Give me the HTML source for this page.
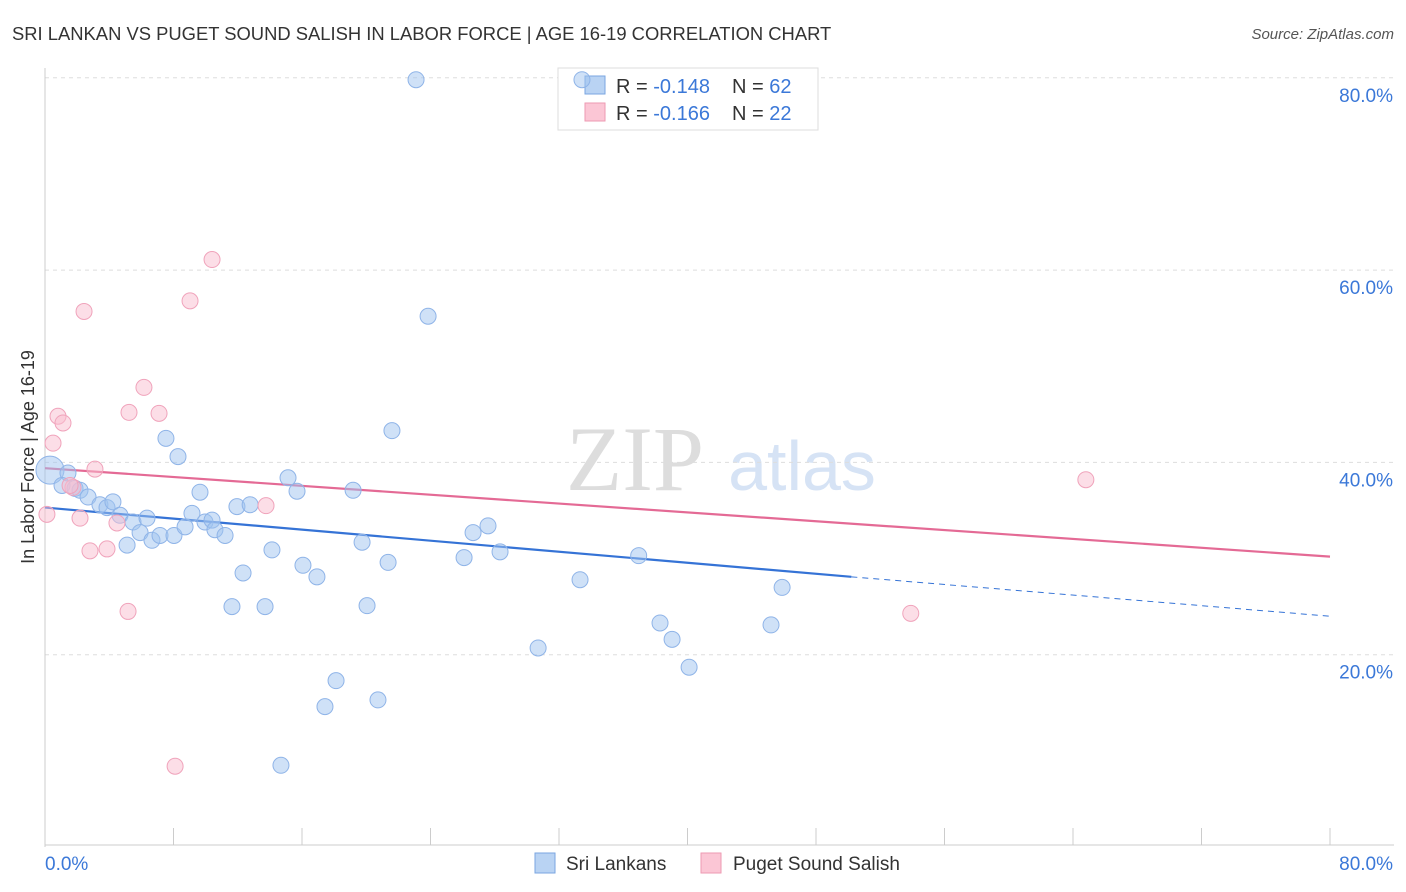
<!DOCTYPE html>
<html><head><meta charset="utf-8"><style>
body{margin:0;background:#fff;font-family:"Liberation Sans",sans-serif;}
svg{display:block}
</style></head><body>
<svg id="chart" width="1406" height="892">
<text x="12" y="40" font-size="18.4" fill="#333">SRI LANKAN VS PUGET SOUND SALISH IN LABOR FORCE | AGE 16-19 CORRELATION CHART</text>
<text x="1394" y="39" font-size="15" fill="#555" text-anchor="end" font-style="italic">Source: ZipAtlas.com</text>
<g><text x="635" y="490" font-size="92" fill="#ddd" font-family="Liberation Serif" text-anchor="middle">ZIP</text><text x="802" y="490" font-size="70" fill="#d6e3f5" text-anchor="middle">atlas</text></g>
<g id="grid"></g><g id="axes"></g>
<g>
<rect x="558" y="68" width="260" height="62" fill="#fff" stroke="#ddd"/>
<rect x="585" y="76" width="20" height="18" fill="#b9d3f3" stroke="#7aa6e0"/>
<rect x="585" y="103" width="20" height="18" fill="#fbc6d5" stroke="#ee9ab2"/>
<text x="616" y="93" font-size="20" fill="#333">R = <tspan fill="#3b78d8">-0.148</tspan></text>
<text x="732" y="93" font-size="20" fill="#333">N = <tspan fill="#3b78d8">62</tspan></text>
<text x="616" y="120" font-size="20" fill="#333">R = <tspan fill="#3b78d8">-0.166</tspan></text>
<text x="732" y="120" font-size="20" fill="#333">N = <tspan fill="#3b78d8">22</tspan></text>
</g>
<g id="trend"></g><g id="dots"></g>
<text transform="translate(34,457) rotate(-90)" font-size="18" fill="#333" text-anchor="middle">In Labor Force | Age 16-19</text>
<g>
<rect x="535" y="853" width="20" height="20" fill="#b9d3f3" stroke="#7aa6e0"/>
<text x="566" y="870" font-size="19" fill="#333">Sri Lankans</text>
<rect x="701" y="853" width="20" height="20" fill="#fbc6d5" stroke="#ee9ab2"/>
<text x="733" y="870" font-size="19" fill="#333">Puget Sound Salish</text>
</g>
</svg>
<script>
const yTicks=[20,40,60,80];
const yTickLabels=["20.0%","40.0%","60.0%","80.0%"];
const blueX=[0.31,1.43,1.06,1.87,2.18,2.68,3.42,3.86,4.23,4.67,5.11,5.48,5.92,6.35,6.66,7.16,7.53,8.03,8.28,8.72,9.15,9.65,9.96,10.4,10.58,11.21,11.64,11.95,12.33,12.77,13.7,14.13,15.13,15.69,16.06,16.93,17.43,18.12,19.18,19.74,20.05,20.73,21.36,21.6,23.1,23.85,26.09,26.65,27.58,28.33,30.7,33.31,33.43,36.96,38.29,39.04,40.1,45.2,45.89,14.69];
const blueY=[39.2,38.9,37.6,37.3,37.1,36.4,35.6,35.3,35.9,34.5,31.4,33.8,32.7,34.2,31.9,32.4,42.5,32.4,40.6,33.3,34.7,36.9,33.8,34.0,33.0,32.4,25.0,35.4,28.5,35.6,25.0,30.9,38.4,37.0,29.3,28.1,14.6,17.3,37.1,31.7,25.1,15.3,29.6,43.3,79.8,55.2,30.1,32.7,33.4,30.7,20.7,27.8,79.8,30.3,23.3,21.6,18.7,23.1,27.0,8.5];
const pinkX=[0.12,0.5,0.81,1.12,1.74,2.18,2.8,3.11,3.86,4.48,5.17,5.23,6.16,7.1,8.1,9.03,10.4,13.76,2.43,64.8,53.9,1.56];
const pinkY=[34.6,42.0,44.8,44.1,37.4,34.2,30.8,39.3,31.0,33.7,24.5,45.2,47.8,45.1,8.4,56.8,61.1,35.5,55.7,38.2,24.3,37.6];
const blueTrend=[35.3,28.1,24.0]; const blueTrendX=[0,50.2,80];
const pinkTrend=[39.4,30.2]; const pinkTrendX=[0,80];
const X=v=>45+v/80*1285, Y=v=>847-v*9.615;
const NS="http://www.w3.org/2000/svg";
function mk(p,t,a){const e=document.createElementNS(NS,t);for(const k in a)e.setAttribute(k,a[k]);document.getElementById(p).appendChild(e);return e;}
yTicks.forEach((t,i)=>{
 const l=mk('grid','line',{x1:45,x2:1394,y1:Y(t),y2:Y(t),stroke:'#ddd','stroke-dasharray':'4,4'});
 
 
 const tx=mk('grid','text',{x:1393,y:Y(t)+24,'font-size':19,fill:'#3b78d8','text-anchor':'end'});tx.textContent=yTickLabels[i];
 
 
});
mk('axes','line',{x1:45,x2:45,y1:68,y2:847,stroke:'#ccc'});
mk('axes','line',{x1:45,x2:1394,y1:845,y2:845,stroke:'#ccc'});
for(let i=0;i<=10;i++){mk('axes','line',{x1:X(i*8),x2:X(i*8),y1:828,y2:845,stroke:'#ccc'});}
let a=mk('axes','text',{x:45,y:870,'font-size':19,fill:'#3b78d8'});a.textContent='0.0%';


a=mk('axes','text',{x:1393,y:870,'font-size':19,fill:'#3b78d8','text-anchor':'end'});a.textContent='80.0%';


let t=mk('trend','line',{x1:X(blueTrendX[0]),y1:Y(blueTrend[0]),x2:X(blueTrendX[1]),y2:Y(blueTrend[1]),stroke:'#3573d6','stroke-width':2.2});


t=mk('trend','line',{x1:X(blueTrendX[1]),y1:Y(blueTrend[1]),x2:X(blueTrendX[2]),y2:Y(blueTrend[2]),stroke:'#3573d6','stroke-width':1,'stroke-dasharray':'6,5'});


t=mk('trend','line',{x1:X(pinkTrendX[0]),y1:Y(pinkTrend[0]),x2:X(pinkTrendX[1]),y2:Y(pinkTrend[1]),stroke:'#e46a95','stroke-width':2.2});


blueX.forEach((x,i)=>{const c=mk('dots','circle',{cx:X(x),cy:Y(blueY[i]),r:i==0?14:8,fill:'rgba(160,195,240,0.5)',stroke:'#8fb4e8','stroke-width':1});
 
 });
pinkX.forEach((x,i)=>{const c=mk('dots','circle',{cx:X(x),cy:Y(pinkY[i]),r:8,fill:'rgba(250,190,208,0.5)',stroke:'#f0a3bb','stroke-width':1});
 
 });
</script>
</body></html>
